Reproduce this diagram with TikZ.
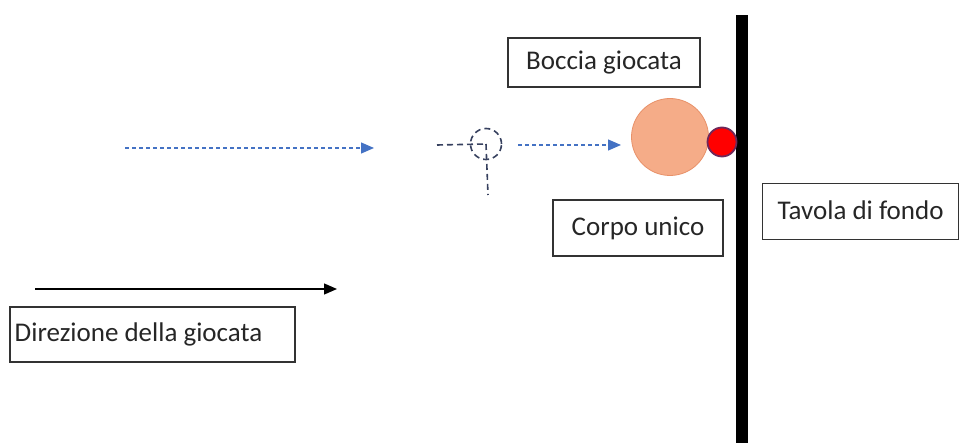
\documentclass[tikz,border=0pt]{standalone}
\usepackage{fontspec}
\setmainfont{Carlito}
\usetikzlibrary{arrows.meta}
\definecolor{flow}{RGB}{68,114,196}
\definecolor{ghost}{RGB}{55,65,95}
\definecolor{ballfill}{RGB}{245,172,136}
\definecolor{balledge}{RGB}{232,145,105}
\definecolor{jackedge}{RGB}{110,40,90}
\tikzset{
  label box/.style={draw=black!80, line width=1.2pt, rectangle, inner sep=0pt,
    font=\fontsize{27}{30}\selectfont, text=black!85},
  flow line/.style={draw=flow, line width=1.2pt, dash pattern=on 4pt off 3pt},
  flow tip/.style={-{Triangle[length=13pt,width=11pt,fill=flow]}},
  ghost line/.style={draw=ghost, line width=1.6pt, dash pattern=on 6pt off 4pt},
}
\begin{document}
\begin{tikzpicture}[x=1pt,y=-1pt]
\useasboundingbox (0,0) rectangle (963,443);

% back board
\fill[black] (736,15) rectangle (748,443);

% labels
\node[label box, minimum width=192pt, minimum height=49pt] (boccia) at (604,62.5) {Boccia giocata};
\node[label box, minimum width=170pt, minimum height=56pt] (corpo) at (638,228) {Corpo unico};
\node[label box, minimum width=196pt, minimum height=56pt, anchor=north west] (tavola) at (762,183) {\raisebox{3pt}{Tavola di fondo}};
\node[label box, minimum width=285pt, minimum height=55pt] (direzione) at (152.5,334.5) {Direzione della giocata\hspace*{28pt}};

% played ball against the jack
\node[circle, draw=balledge, fill=ballfill, line width=0.8pt, minimum size=77pt, inner sep=0pt] (ball) at (670,137) {};
\node[circle, draw=jackedge, fill=red, line width=1.8pt, minimum size=29pt, inner sep=0pt] (jack) at (722,142) {};

% earlier position of the ball (ghost)
\node[circle, ghost line, minimum size=31pt, inner sep=0pt] (ghost) at (486,144) {};
\coordinate (gl) at (437,145);
\coordinate (gb) at (488,195);
\draw[ghost line] (gl) -- (ghost.center);
\draw[ghost line] (ghost.center) -- (gb);

% trajectory
\coordinate (t0) at (125,148);
\coordinate (t1) at (374,148);
\coordinate (t2) at (518,145);
\coordinate (t3) at (621,145);
\draw[flow line, flow tip] (t0) -- (t1);
\draw[flow line, flow tip] (t2) -- (t3);

% direction of play
\coordinate (d0) at (35,289);
\coordinate (d1) at (337,289);
\draw[line width=1.3pt, -{Triangle[length=13pt,width=11pt]}] (d0) -- (d1);
\end{tikzpicture}
\end{document}
